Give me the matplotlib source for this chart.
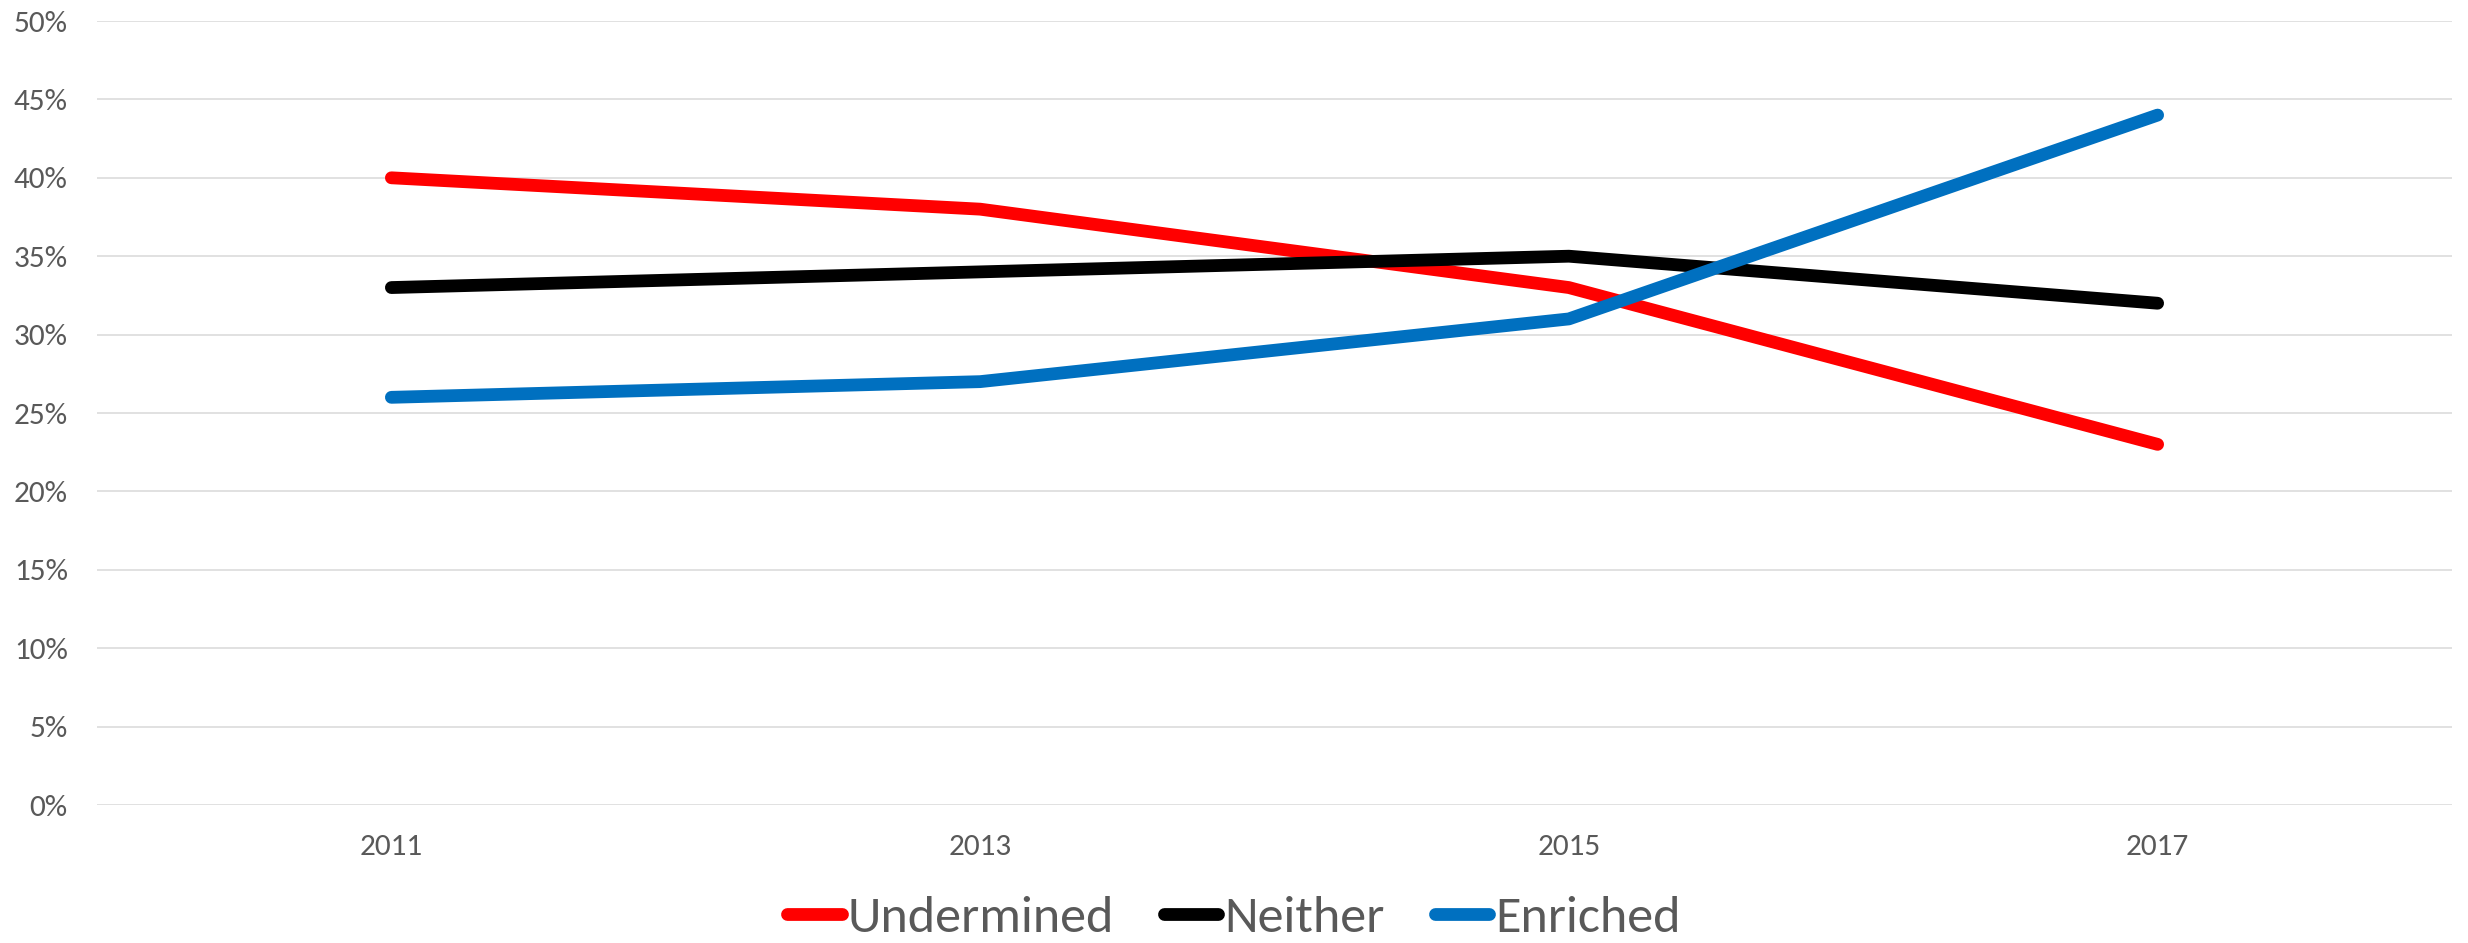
import matplotlib
matplotlib.use("Agg")
import matplotlib.pyplot as plt
from matplotlib import font_manager as fm
from matplotlib.ticker import PercentFormatter

years = ["2011", "2013", "2015", "2017"]
undermined = [40, 38, 33, 23]
neither = [33, 34, 35, 32]
enriched = [26, 27, 31, 44]
series_names = ["Undermined", "Neither", "Enriched"]
colors = ["#ff0000", "#000000", "#0070c0"]

avail = {f.name for f in fm.fontManager.ttflist}
fam = [f for f in ["Carlito", "Lato", "Open Sans", "DejaVu Sans"] if f in avail]
plt.rcParams['font.family'] = fam

fig = plt.figure(figsize=(24.68, 9.43), dpi=100)
ax = fig.add_axes([97/2468, 1-805/943, (2452-97)/2468, (805-21)/943])

x = list(range(len(years)))
for vals, name, c in zip([undermined, neither, enriched], series_names, colors):
    ax.plot(x, vals, color=c, lw=9.2, solid_capstyle='round', solid_joinstyle='round', label=name, zorder=3)

ax.set_xlim(-0.5, len(years)-0.5)
ax.set_ylim(0, 50)
ax.set_yticks(range(0, 51, 5))
ax.yaxis.set_major_formatter(PercentFormatter(decimals=0))
ax.set_xticks(x)
ax.set_xticklabels(years)
ax.grid(axis='y', color='#d9d9d9', lw=1.1, zorder=0)
for s in ax.spines.values():
    s.set_visible(False)
ax.tick_params(axis='both', length=0, colors='#595959', labelsize=22.5)
ax.tick_params(axis='y', pad=21)
ax.tick_params(axis='x', pad=21)

leg = fig.legend(loc='center', bbox_to_anchor=(0.5, 1-918/943), ncol=3,
                 frameon=False, fontsize=37.5, handlelength=1.05, handletextpad=0.12,
                 columnspacing=0.95, labelcolor='#595959')
fig.savefig("out.png", dpi=100, facecolor='white')
